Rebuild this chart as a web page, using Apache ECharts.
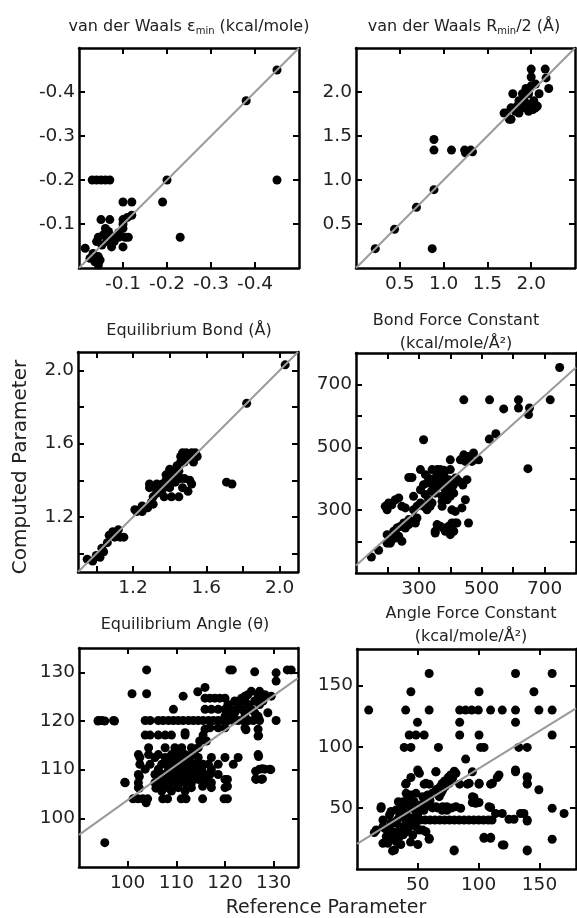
<!DOCTYPE html>
<html>
<head>
<meta charset="utf-8">
<script src="https://cdn.jsdelivr.net/npm/echarts/dist/echarts.min.js"></script>
<style>
html,body{margin:0;padding:0;background:#fff;}
#chart{width:577px;height:918px;}
</style>
</head>
<body>
<div id="chart"></div>
<script>
// ---------------- DATA ----------------
// Panel titles
const panelTitles = [
  'van der Waals ε{sub|min} (kcal/mole)',
  'van der Waals R{sub|min}/2 (Å)',
  'Equilibrium Bond (Å)',
  'Bond Force Constant\n(kcal/mole/Å²)',
  'Equilibrium Angle (θ)',
  'Angle Force Constant\n(kcal/mole/Å²)'
];
const yAxisTitle = 'Computed Parameter';
const xAxisTitle = 'Reference Parameter';

// Tick values / labels per panel
const ticks1 = [-0.1, -0.2, -0.3, -0.4];
const labels1 = [-0.1, -0.2, -0.3, -0.4];
const ticks2 = [0.5, 1.0, 1.5, 2.0];
const labels2 = [0.5, 1.0, 1.5, 2.0];
const ticks3 = [1.0, 1.2, 1.4, 1.6, 1.8, 2.0];
const labels3 = [1.2, 1.6, 2.0];
const ticks4 = [200, 300, 400, 500, 600, 700];
const labels4 = [300, 500, 700];
const ticks5 = [100, 110, 120, 130];
const labels5 = [100, 110, 120, 130];
const ticks6 = [50, 100, 150];
const labels6 = [50, 100, 150];

// Fit lines [x0,y0],[x1,y1]
const fit1 = [[0, 0], [-0.5, -0.5]];
const fit2 = [[0, 0], [2.5, 2.5]];
const fit3 = [[0.9, 0.9], [2.1, 2.1]];
const fit4 = [[100, 124], [800, 754]];
const fit5 = [[90, 96.6], [135, 128.8]];
const fit6 = [[0, 20.5], [180, 131.5]];

// Panel 1: vdW epsilon [reference, computed]
const epsPoints = [
  [-0.45,-0.45],[-0.38,-0.38],[-0.45,-0.2],[-0.2,-0.2],[-0.19,-0.15],[-0.23,-0.07],[-0.1,-0.15],[-0.12,-0.15],
  [-0.03,-0.2],[-0.04,-0.2],[-0.05,-0.2],[-0.06,-0.2],[-0.07,-0.2],
  [-0.05,-0.11],[-0.07,-0.11],[-0.1,-0.11],[-0.11,-0.115],[-0.12,-0.12],[-0.1,-0.1],
  [-0.044,-0.07],[-0.055,-0.075],[-0.067,-0.083],[-0.078,-0.07],[-0.09,-0.07],[-0.105,-0.07],[-0.112,-0.07],[-0.1,-0.09],
  [-0.014,-0.045],[-0.04,-0.06],[-0.052,-0.052],[-0.063,-0.06],[-0.074,-0.048],[-0.1,-0.048],
  [-0.032,-0.033],[-0.044,-0.026],[-0.036,-0.014],[-0.048,-0.018],[-0.044,-0.007],[-0.025,-0.022],
  [-0.06,-0.09],[-0.08,-0.06],[-0.09,-0.08],[-0.07,-0.075]
];

// Panel 2: vdW Rmin/2
const rminPoints = [
  [0.22,0.22],[0.44,0.44],[0.69,0.69],[0.89,0.89],[0.87,0.22],[0.89,1.46],[0.89,1.34],[1.09,1.34],
  [1.24,1.34],[1.33,1.32],[1.25,1.31],[1.31,1.34],
  [1.69,1.76],[1.79,1.98],[1.90,1.98],[1.86,1.76],[1.75,1.69],[1.77,1.82],[1.86,1.90],[1.92,1.90],
  [1.97,1.98],[2.0,2.26],[2.0,2.17],[2.0,2.07],[2.03,1.90],[2.05,1.82],[1.97,1.78],[2.09,1.98],
  [2.16,2.26],[2.17,2.16],[2.2,2.04],[2.07,1.84],[1.77,1.69],[1.90,1.82],[1.82,1.78],[1.94,2.04],
  [2.05,2.09],[1.97,1.86],[1.72,1.76],[1.84,1.84],[2.02,1.80],[1.95,2.0]
];

// Panel 3: equilibrium bond
const bondPoints = [
  [2.03,2.03],[1.82,1.82],[1.71,1.39],[1.74,1.38],
  [1.46,1.53],[1.49,1.55],[1.52,1.55],[1.54,1.55],[1.55,1.53],[1.50,1.52],[1.48,1.50],[1.53,1.50],[1.46,1.50],[1.51,1.54],[1.47,1.55],[1.44,1.48],
  [1.40,1.46],[1.44,1.46],[1.38,1.43],[1.42,1.42],
  [1.29,1.38],[1.33,1.38],[1.36,1.38],[1.40,1.40],
  [1.48,1.41],[1.51,1.40],[1.47,1.36],[1.50,1.34],[1.52,1.38],
  [1.29,1.36],[1.33,1.34],[1.36,1.35],[1.40,1.36],
  [1.37,1.31],[1.41,1.31],[1.45,1.31],[1.31,1.31],[1.33,1.33],
  [1.25,1.26],[1.28,1.25],[1.21,1.24],[1.24,1.24],[1.30,1.28],
  [0.95,0.97],[1.0,0.99],[1.02,0.98],[1.04,1.01],[1.09,1.12],[1.12,1.13],[1.07,1.10],[1.13,1.09],[1.15,1.09],[1.10,1.09],
  [1.22,1.23],[1.25,1.23],[1.27,1.25],[1.31,1.27],[0.98,0.96],[1.03,1.03],[1.06,1.06],[1.11,1.11],
  [1.42,1.44],[1.45,1.45],[1.35,1.36],[1.38,1.40],[1.43,1.39],[1.46,1.41]
];

// Panel 4: bond force constant
const kbPoints = [
  [748,754],[718,651],[617,651],[617,625],[652,625],[649,604],[570,622],[525,651],[443,651],[647,432],[545,543],[524,526],[315,524],
  [149,151],[172,172],[199,222],[204,201],[214,206],[225,211],[236,217],[246,201],[220,233],[230,243],[241,248],[257,243],[268,254],[252,259],[199,195],[209,195],
  [193,312],[204,323],[214,317],[225,333],[236,339],[246,312],[199,301],[257,307],
  [268,270],[278,264],[294,275],[289,259],[268,404],[278,404],
  [283,301],[294,312],[305,323],[315,312],[326,301],[336,312],[342,323],
  [305,365],[315,381],[326,386],[336,392],[352,397],[305,429],[342,429],[358,429],[368,429],[379,427],[321,413],[331,402],[352,402],
  [358,413],[368,397],[379,386],[363,376],[352,354],[384,365],[374,344],[390,333],[400,344],[411,354],[374,312],
  [352,233],[368,249],[379,243],[395,249],[405,259],[416,259],[358,254],[384,233],[400,222],[411,233],[352,227],
  [400,429],[416,397],[400,371],[405,301],[416,296],[437,307],[448,333],[453,397],[458,259],[421,259],
  [432,460],[443,476],[458,471],[474,482],[490,460],[469,455],[448,455],[400,460],[416,402],[395,397],[374,328],[331,333],[283,344],
  [360,420],[380,415],[345,380],[385,380],[420,400],[430,390],[440,380],[320,350],[340,360],[395,360],[410,380]
];

// Panel 5: equilibrium angle
const anglePoints = [
  [95.3,95.0],[93.9,120],[95.3,120],[97.3,120],[99.4,107.4],
  [101.1,104],[102.1,104],[103.1,104],[104.1,104],[107.2,104],[108.2,104],[111,104],[112,104],[115.4,104],[119.8,104],[120.5,104],[103.8,103.2],
  [102.4,106.2],[102.4,108.6],[105.8,106.2],[106.5,106.9],[106.9,105.9],[108.9,105.9],[115.4,106.6],[120.5,106.6],[120.5,108],
  [126.3,108.1],[127.7,108.1],[126.3,109.7],[126.9,112.7],[127.7,110.2],[129.4,110],[126.9,117],[124.3,118.2],
  [103.9,130.5],[121,130.5],[121.5,130.5],[126.1,130.1],[130.5,129.9],[132.8,130.5],[133.6,130.5],[130.5,128.2],
  [115.9,126.9],[125.4,126.1],[127.1,126.1],[114.4,126],[100.9,125.6],[103.9,125.6],[111.4,125.1],[129.5,125.1],[124.1,125.1],
  [115.9,124.7],[116.9,124.7],[117.9,124.7],[118.9,124.7],[120,124.7],[123.4,124.7],[124.7,125.4],[126.8,125.4],[128.2,125.4],
  [122,124.1],[124.1,124.1],[126.1,124.1],[127.8,124.1],[120.6,123.4],[122.7,123.4],[124.7,123.4],[127.1,123.4],
  [109.4,122.4],[115.9,122.4],[117.2,122.4],[118.6,122.4],[120,122.4],[121.3,122.4],[122.4,122.4],[123.4,122.4],[125.4,122.4],
  [120.6,121.7],[122,121.7],[124.1,121.7],[126.1,121.7],[128.8,121.7],[120,121],[121.3,121],[124.1,121],[126.8,121],
  [94,120.1],[94.7,120.1],[97.1,120.1],[103.6,120.1],[104.6,120.1],[106.3,120.1],[107.3,120.1],[108.4,120.1],[109.4,120.1],[110.4,120.1],
  [111.4,120.1],[112.5,120.1],[113.5,120.1],[114.5,120.1],[115.5,120.1],[116.6,120.1],[117.6,120.1],[118.6,120.1],[119.6,120.1],[120.6,120.1],
  [121.7,120.1],[122.7,120.1],[123.7,120.1],[124.8,120.1],[125.8,120.1],[127.1,120.1],[130.5,120.1],
  [116.9,118.6],[118.6,118.6],[120,118.6],[124.1,118.6],[115.9,118.3],[126.8,118.3],
  [103.6,117.1],[104.6,117.1],[106.3,117.1],[107.7,117.1],[109,117.1],[111.8,117.1],[115.5,117.1],[111.8,117.6],[126.8,116.9],
  [114.8,115.9],[116.2,115.9],
  [104.3,114.5],[107.7,114.5],[109.7,114.5],[111.1,114.5],[113.1,114.5],[114.5,114.5],
  [102.2,113.1],[104.3,113.1],[106.3,113.1],[109,113.1],[110.4,113.1],[111.8,113.1],[113.1,113.1],[113.8,113.1],[126.8,113.1],
  [102.5,112.5],[105.6,112.5],[107.7,112.5],[109,112.5],[110.4,112.5],[111.8,112.5],[112.8,112.5],[114.5,112.5],[117.2,112.5],[120,112.5],[122.7,112.5],
  [102.5,111.1],[104.6,111.1],[107,111.1],[108.4,111.1],[109.4,111.1],[110.4,111.1],[111.4,111.1],[112.5,111.1],[113.5,111.1],[114.5,111.1],[115.5,111.1],[116.6,111.1],[118.6,111.1],[121.7,111.1],
  [103.6,110.1],[106.3,110.1],[108.4,110.1],[109.7,110.1],[110.8,110.1],[111.8,110.1],[112.8,110.1],[113.8,110.1],[115.2,110.1],[117.2,110.1],[127.1,110.1],[128.2,110.1],[129.2,110.1],
  [102.2,109],[105.6,109],[107.3,109],[108.7,109],[109.7,109],[111.1,109],[112.5,109],[113.5,109],[114.5,109],[115.9,109],[116.9,109],[118.6,109],
  [107,108],[108.4,108],[109.4,108],[110.4,108],[111.4,108],[112.5,108],[113.5,108],[114.5,108],[115.9,108],[120,108],[126.4,108],[127.5,108],
  [99.5,107.3],[102.2,107.3],[105.6,107.3],[107.3,107.3],[109,107.3],[110.4,107.3],[111.8,107.3],[113.1,107.3],[115.9,107.3],[117.2,107.3],
  [102.2,106.3],[106.3,106.3],[107.7,106.3],[110.4,106.3],[113.1,106.3],[117.2,106.3],[120,106.3],
  [107,105.6],[109,105.6],[111.8,105.6]
];

// Panel 6: angle force constant
const kaPoints = [
  [9.6,130],[59.3,160],[130.3,160],[160.4,160],[44.3,145],[100.3,145],[145.4,145],
  [40,130],[59.3,130],[84.4,130],[89.3,130],[94.3,130],[99.7,130],[109.8,130],[119.4,130],[130.3,130],[149.5,130],[160.4,130],
  [49.7,120],[84.4,120],[130.3,120],
  [42.9,109.6],[48.4,109.6],[55.2,109.6],[84.4,109.6],[100.3,109.6],[160.4,109.6],
  [38.8,99.5],[44.3,99.5],[66.9,99.5],[101.6,99.5],[104.4,99.5],[133,99.5],[139.9,99.5],
  [89.3,89.9],
  [50.3,79.5],[64.8,79.5],[79.8,79.5],[94.8,79.5],[115.3,74.9],[130.3,79.5],
  [139.9,74.9],[139.9,69.4],[149.5,64.8],
  [44.3,74.9],[55.2,69.4],[59.3,69.4],[40,69.4],[100.3,69.4],[109.8,69.4],[84.4,69.4],[90.7,69.4],
  [160.4,49.7],[170.2,45.4],[85.2,49.7],[96.2,58.5],[94.8,54.4],[100.3,54.4],[109.8,50.3],
  [113.9,45.4],[119.4,45.4],[124.9,40.7],[129,40.7],[134.4,45.4],[137.2,45.4],[139.9,39.3],
  [104.4,25.1],[109.8,25.1],[119.4,19.7],[139.9,14.8],[79.8,14.8],[29.2,14.8],[160.4,24.3],[59.3,24.3],[14.2,29.8],[19.7,49.7],
  [48,48],[52,52],[55,55],[58,58],[62,62],[65,65],[68,67],[70,70],[72,72],[75,75],[77,77],[80,80],
  [40,40],[44,40],[48,40],[52,40],[56,40],[60,40],[64,40],[68,40],[72,40],[76,40],[80,40],[84,40],[88,40],[92,40],[96,40],[100,40],[104,40],[108,40],[111,40],
  [30.8,15.5],[79.9,15.5],[139.9,15.5],[120.8,19.6],[104.4,25.9],[109.9,25.9],[19.9,51],[15.8,31.9],[21.3,40.1],[21.3,34.6],[21.3,21],
  [26.7,44.2],[32.2,48.3],[37.6,51],[43.1,52.4],[34.9,42.8],[40.4,45.5],[26.7,34.6],[32.2,37.4],[37.6,34.6],[43.1,37.4],[48.5,34.6],[54,31.9],
  [29.5,29.2],[34.9,26.5],[40.4,30.5],[45.8,27.8],[51.3,31.9],[56.7,30.5],[26.7,23.7],[32.2,22.4],[59.4,25.1],[24,26.5],[25.4,21],
  [40.4,61.9],[44.5,60.5],[48.5,61.9],[54,59.2],[58.1,60.5],[62.2,61.9],[69,61.9],
  [40.4,70.1],[51.3,78.3],[56.7,70.1],[64.9,79.6],[49.9,81],
  [67.6,59.2],[70.4,64.6],[72.5,67.4],[75.8,70.1],[78.5,74.2],[81.3,78.3],
  [64.9,51],[70.4,51],[73.9,51],[81.3,51],
  [92.2,70.1],[100.4,70.1],[111.3,70.1],[94.9,59.2],[97.6,53.7],[108.5,51],
  [116.7,76.9],[130.3,81],[139.9,75.5],[139.9,70.1],[139.9,40.1],
  [30,30],[35,32],[38,28],[42,33],[28,38],[33,40],[36,45],[46,42],[50,45],[52,50],[55,48],[47,55],[58,52],[60,56],
  [30,25],[27,30],[36,20],[44,22],[50,20],[23,33],[38,55],[42,58],[45,50],[34,55],[28,47],
  [62,50],[66,50],[70,48],[74,48],[78,50]
];

// ---------------- LAYOUT / RENDER ----------------
const FONT = '"DejaVu Sans", "Liberation Sans", Arial, sans-serif';
const panels = [
  {pts: epsPoints, fit: fit1, ticks: ticks1, labels: labels1, min: -0.5, max: 0, inverse: true, dec: 1,
   grid: {left: 79, top: 48, width: 220, height: 220}, title: {x: 189, y: 27}},
  {pts: rminPoints, fit: fit2, ticks: ticks2, labels: labels2, min: 0, max: 2.5, inverse: false, dec: 1,
   grid: {left: 356, top: 48, width: 219, height: 220}, title: {x: 464, y: 27}},
  {pts: bondPoints, fit: fit3, ticks: ticks3, labels: labels3, min: 0.9, max: 2.1, inverse: false, dec: 1,
   grid: {left: 78, top: 352, width: 220, height: 220}, title: {x: 189, y: 331}},
  {pts: kbPoints, fit: fit4, ticks: ticks4, labels: labels4, min: 100, max: 800, inverse: false, dec: 0,
   grid: {left: 356, top: 353, width: 220, height: 220}, title: {x: 456, y: 332}},
  {pts: anglePoints, fit: fit5, ticks: ticks5, labels: labels5, min: 90, max: 135, inverse: false, dec: 0,
   grid: {left: 79, top: 648, width: 219, height: 219}, title: {x: 185, y: 625}},
  {pts: kaPoints, fit: fit6, ticks: ticks6, labels: labels6, min: 0, max: 180, inverse: false, dec: 0,
   grid: {left: 357, top: 649, width: 219, height: 220}, title: {x: 471, y: 625}}
];

const grids = [], xAxes = [], yAxes = [], series = [], graphics = [];

function axisDef(p, gi, dim, pos, showLabel) {
  return {
    type: 'value', gridIndex: gi, position: pos,
    min: p.min, max: p.max, inverse: p.inverse,
    axisLine: {show: true, onZero: false, lineStyle: {color: '#000', width: 2.5}},
    axisTick: {show: true, inside: true, length: 6, lineStyle: {color: '#000', width: 2}, customValues: p.ticks},
    axisLabel: {show: showLabel, customValues: p.labels, fontFamily: FONT, fontSize: 18.5, color: '#222',
      margin: dim === 'x' ? 7 : 4,
      formatter: v => Number(v).toFixed(p.dec)},
    splitLine: {show: false}
  };
}

panels.forEach((p, i) => {
  grids.push(Object.assign({containLabel: false}, p.grid));
  const xi = xAxes.length, yi = yAxes.length;
  xAxes.push(axisDef(p, i, 'x', 'bottom', true));
  xAxes.push(axisDef(p, i, 'x', 'top', false));
  yAxes.push(axisDef(p, i, 'y', 'left', true));
  yAxes.push(axisDef(p, i, 'y', 'right', false));
  series.push({type: 'scatter', xAxisIndex: xi, yAxisIndex: yi, data: p.pts, symbolSize: 9,
    itemStyle: {color: '#000', opacity: 1}, silent: true, z: 2});
  series.push({type: 'line', xAxisIndex: xi, yAxisIndex: yi, data: p.fit, symbol: 'none',
    lineStyle: {color: '#9a9a9a', width: 2}, silent: true, z: 3});
  graphics.push({
    type: 'text', x: p.title.x, y: p.title.y, z: 10,
    style: {
      text: panelTitles[i], fill: '#222', font: '16px ' + FONT, fontSize: 16, fontFamily: FONT,
      align: 'center', verticalAlign: 'middle', textAlign: 'center', textVerticalAlign: 'middle',
      lineHeight: 23,
      rich: {sub: {fontSize: 10, fontFamily: FONT, fill: '#222', padding: [9, 0, 0, 0]}}
    }
  });
});

graphics.push({
  type: 'text', x: 21, y: 467, rotation: Math.PI / 2, z: 10,
  style: {text: yAxisTitle, fill: '#222', fontSize: 20, fontFamily: FONT, align: 'center', verticalAlign: 'middle',
    textAlign: 'center', textVerticalAlign: 'middle'}
});
graphics.push({
  type: 'text', x: 326, y: 908, z: 10,
  style: {text: xAxisTitle, fill: '#222', fontSize: 19, fontFamily: FONT, align: 'center', verticalAlign: 'middle',
    textAlign: 'center', textVerticalAlign: 'middle'}
});

const chart = echarts.init(document.getElementById('chart'), null, {renderer: 'canvas'});
chart.setOption({
  animation: false,
  backgroundColor: '#fff',
  grid: grids,
  xAxis: xAxes,
  yAxis: yAxes,
  series: series,
  graphic: graphics
});
</script>
</body>
</html>
